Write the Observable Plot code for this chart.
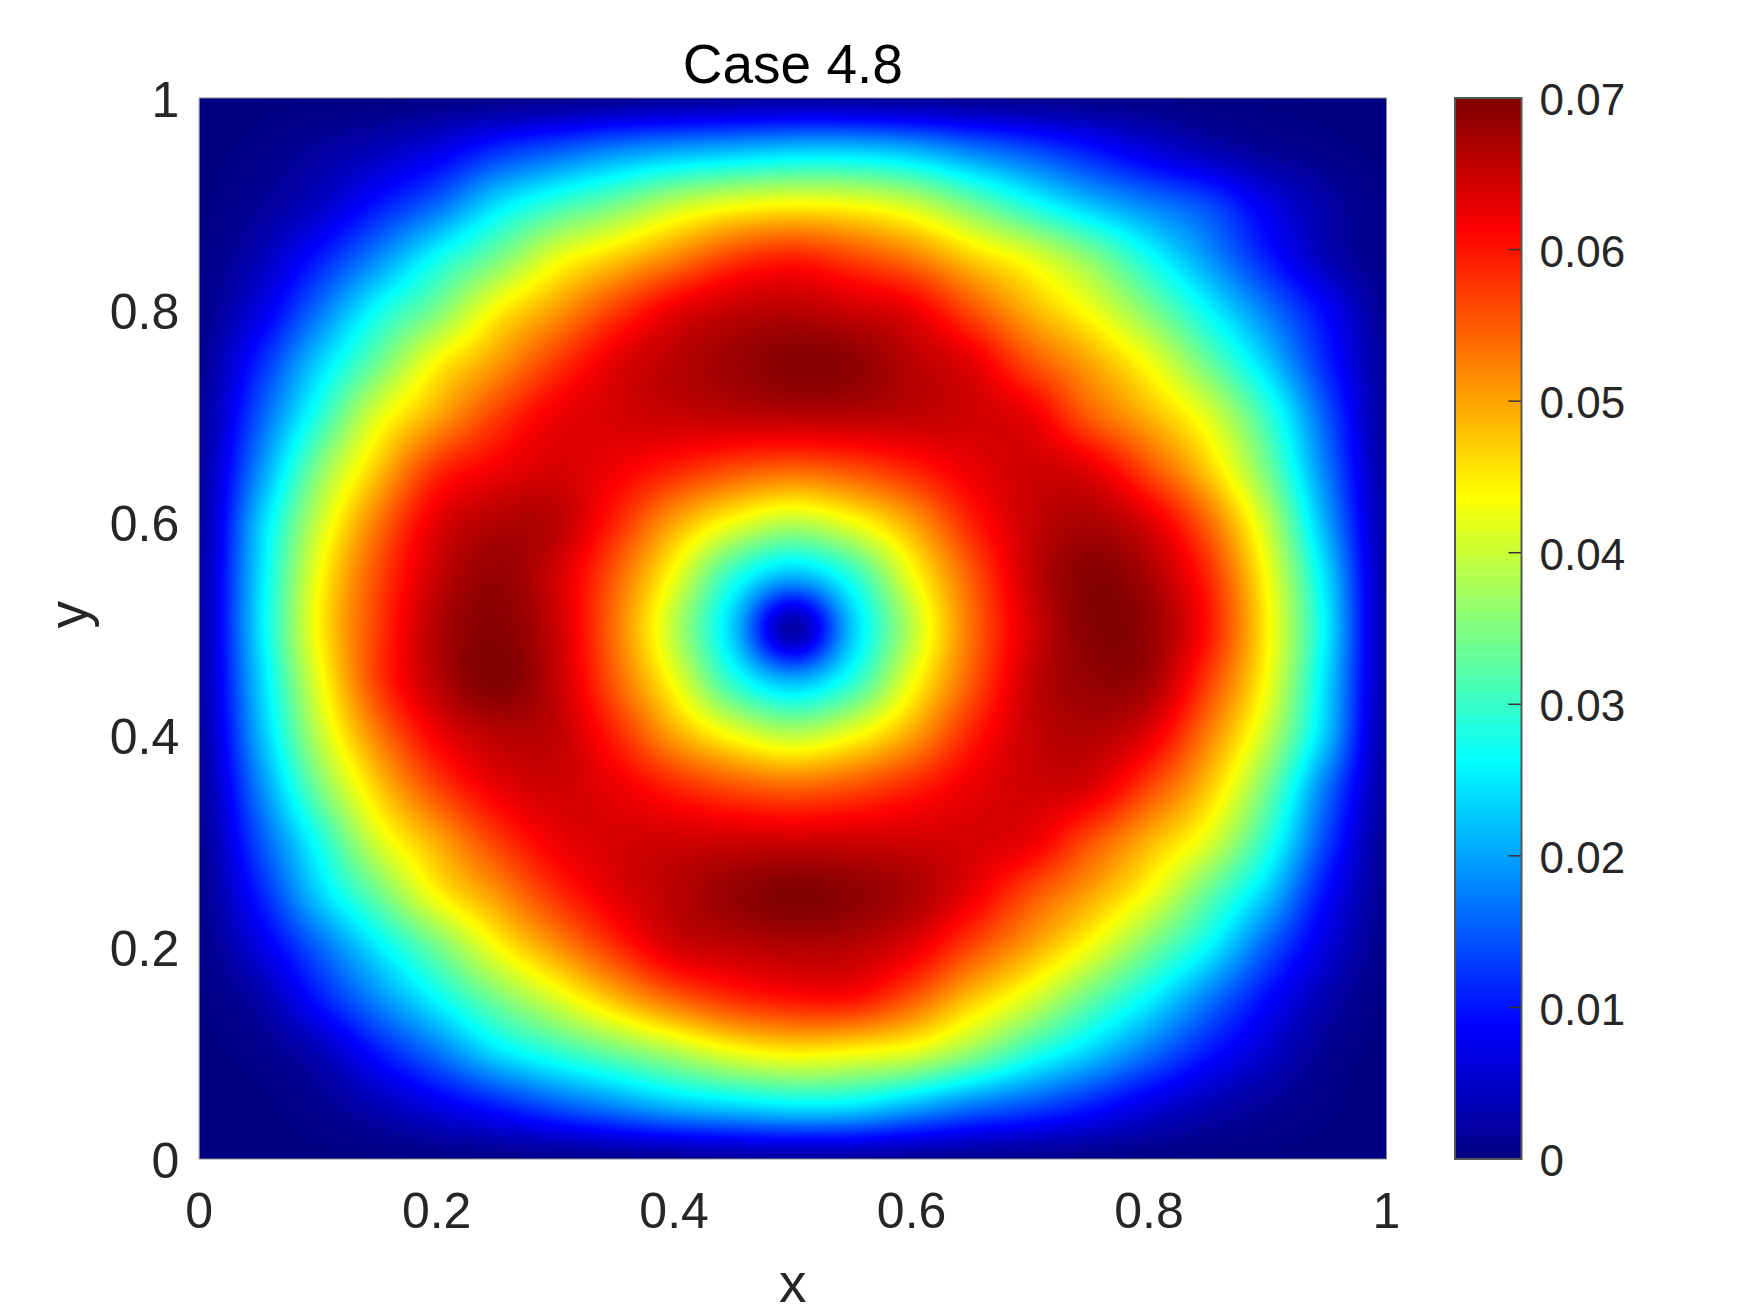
<!DOCTYPE html>
<html>
<head>
<meta charset="utf-8">
<script src="https://cdn.jsdelivr.net/npm/d3@7"></script>
<script src="https://cdn.jsdelivr.net/npm/@observablehq/plot@0.6"></script>
<style>
html,body{margin:0;padding:0;background:#fff;overflow:hidden}
#chart{position:relative;width:1750px;height:1313px}
#chart svg{position:absolute;left:0;top:0;background:transparent;overflow:visible}
</style>
</head>
<body>
<div id="chart"></div>
<script>
const titleText = "Case 4.8";
const xLabelText = "x";
const yLabelText = "y";
const axisTicks = [0, 0.2, 0.4, 0.6, 0.8, 1];
const colorTicks = [0, 0.01, 0.02, 0.03, 0.04, 0.05, 0.06, 0.07];
const jetStops = [0, 0.00875, 0.02625, 0.04375, 0.06125, 0.07];
const jetColors = ["rgb(0,0,131)", "rgb(0,0,255)", "rgb(0,255,255)", "rgb(255,255,0)", "rgb(255,0,0)", "rgb(128,0,0)"];
const gridX = [0,.05,.1,.15,.2,.25,.3,.35,.4,.45,.5,.55,.6,.65,.7,.75,.8,.85,.9,.95,1];
const gridY = [1,.95,.9,.85,.8,.75,.7,.65,.6,.55,.5,.45,.4,.35,.3,.25,.2,.15,.1,.05,0];
const y100 = [0,0,0,0,0.2,0.4,0.7,1,1.4,1.8,2,1.8,1.4,1,0.7,0.4,0.2,0,0,0,0];
const y095 = [0,.5,2,4,7,11.8,15,18.2,20.3,21.7,23,23,21.3,17.6,14.2,10.4,6.5,3.5,1.5,.5,0];
const y090 = [0,1.5,4.5,10,15.75,24,29.6,34,39.2,42.5,43.8,43,40,34,27.6,22,17.6,13.6,7,2.5,.3];
const y085 = [.3,3.5,10.2,18,26.7,34,42,47,52,57,59,56.5,52.8,47,42,35.5,27,19,10.5,3.5,.5];
const y080 = [.5,6.5,16.4,26.8,34.6,44,50.4,57,62.5,65.3,66,64.7,62.5,56,49,43,35,26,17,8.5,1];
const y075 = [1,11,23,33.7,44,50.6,57.4,63,66,68,69.5,69,66,63,56,50,43,33.5,23,11,1.5];
const y070 = [1.5,14.6,28.5,41.7,49.8,57,62.3,64,65,65.5,66,66,65.5,64.5,62.5,55,49,41.5,29.7,14.5,1.5];
const y065 = [2,18.2,35,47.5,58,62,64,62,59,56,54.5,56,59,62.5,64.5,63,56,47,34,17,2];
const y060 = [2,22.2,39.8,53,63,66.5,66,59,50,43,39,43,50,59,65,67,63.5,54,39.5,20,2.5];
const y055 = [2.5,23.5,43,56,65,68.5,64.5,55,43,29,21.5,29,43,55,65,69.5,67,58.5,43,23.5,2.5];
const y050 = [2.5,24,44,57,66.5,69.5,65,53.5,39,22.5,2.5,22.5,39,53.5,64,69.5,68.5,60,44.3,25,2.5];
const y045 = [2.5,22.6,42,57,66,70,65.5,55,43,29,21.5,29,43,55,65,68.5,67.5,57,43,23.5,2.5];
const y040 = [2,20.8,39,52.5,62,66,65.5,59,50,43,39,43,50,59,65,66.5,63,52.5,39.5,22,2];
const y035 = [1.5,17.5,34,47,56.5,62.5,64.5,62.5,59,56,54.5,56,59,62.5,64.5,63.5,56.5,47.5,34,16.5,2];
const y030 = [1,14,27.5,41,49.5,57,62.3,64,64.5,64.5,64.5,64.5,64.5,64,62.5,56,49,41.5,29,13,1];
const y025 = [.7,10.5,23,33.5,44,51,58,63,66,68.5,70,69,67,62.5,56,50,43,33,22.5,9,1];
const y020 = [.4,6.5,15.5,25,34,43.5,51,58,64,65.5,66.5,66,63,56.5,50,43,34.5,26,15,6,.5];
const y015 = [.2,2.5,10,18,26,34,41,48,54,58,60,60,55,47.5,41,33,25.5,17,9,3,0];
const y010 = [0,.7,3.5,10,16.5,24,29,33.5,38,42.5,44.5,43.5,41.5,36,29,23,16.5,10,5,1,0];
const y005 = [0,0,1,3.5,7,10.5,14.5,18,21.5,23.5,25,24.5,21,17,14,10.5,6.5,3.5,1.5,.3,0];
const y000 = [0,0,0,0,0.2,0.4,0.7,1,1.4,1.8,2,1.8,1.4,1,0.7,0.4,0.2,0,0,0,0];
const rows = [y100,y095,y090,y085,y080,y075,y070,y065,y060,y055,y050,y045,y040,y035,y030,y025,y020,y015,y010,y005,y000];

const cells = rows.flatMap((row, r) => row.map((v, c) => ({x: gridX[c], y: gridY[r], v: v / 1000})));

// smooth (cubic) spatial interpolation of the sampled grid for Plot.raster
function cubicInterpolate(index, width, height, X, Y, V) {
  const n = gridX.length, m = gridY.length;
  const g = new Float64Array(n * m);
  for (const i of index) {
    const c = Math.round(X[i] / width * (n - 1));
    const r = Math.round(Y[i] / height * (m - 1));
    g[r * n + c] = V[i];
  }
  const w = (t) => [
    0.5 * (-t + 2 * t * t - t * t * t),
    0.5 * (2 - 5 * t * t + 3 * t * t * t),
    0.5 * (t + 4 * t * t - 3 * t * t * t),
    0.5 * (t * t * t - t * t)
  ];
  const out = new Float64Array(width * height);
  for (let py = 0; py < height; ++py) {
    const v = (py + 0.5) / height * (m - 1), r0 = Math.min(m - 2, Math.floor(v)), wy = w(v - r0);
    for (let px = 0; px < width; ++px) {
      const u = (px + 0.5) / width * (n - 1), c0 = Math.min(n - 2, Math.floor(u)), wx = w(u - c0);
      let s = 0;
      for (let a = 0; a < 4; ++a) {
        const r = Math.max(0, Math.min(m - 1, r0 - 1 + a));
        for (let b = 0; b < 4; ++b) {
          const c = Math.max(0, Math.min(n - 1, c0 - 1 + b));
          s += wy[a] * wx[b] * g[r * n + c];
        }
      }
      out[py * width + px] = Math.max(0, s);
    }
  }
  return out;
}

const fontFamily = "'Liberation Sans', Arial, sans-serif";
const tickColor = "#262626";
const colorScale = {type: "linear", domain: jetStops, range: jetColors, clamp: true};
const plotStyle = {fontFamily, fontSize: "44px", background: "transparent"};

const main = Plot.plot({
  width: 1750, height: 1313,
  marginLeft: 198.7, marginRight: 364, marginTop: 97.5, marginBottom: 154.5,
  style: plotStyle,
  x: {domain: [0, 1]},
  y: {domain: [0, 1]},
  color: colorScale,
  marks: [
    Plot.raster(cells, {x: "x", y: "y", fill: "v", x1: 0, x2: 1, y1: 0, y2: 1, pixelSize: 1, interpolate: cubicInterpolate}),
    Plot.frame({stroke: "#8a8a8a", strokeWidth: 1}),
    Plot.axisX({ticks: axisTicks, tickFormat: String, tickSize: 0, tickPadding: 33, fontSize: 50, label: null, color: tickColor}),
    Plot.axisY({ticks: axisTicks, tickFormat: String, tickSize: 0, tickPadding: 20, fontSize: 50, dy: 3, label: null, color: tickColor}),
    Plot.text([titleText], {frameAnchor: "top", dy: -33, fontSize: 55, fill: "#000", lineAnchor: "middle"}),
    Plot.text([xLabelText], {frameAnchor: "bottom", dy: 125, fontSize: 55, fill: tickColor, lineAnchor: "middle"}),
    Plot.text([yLabelText], {frameAnchor: "left", dx: -130, fontSize: 55, fill: tickColor, rotate: -90, lineAnchor: "middle"})
  ]
});

const bar = Plot.plot({
  width: 1750, height: 1313,
  marginLeft: 1454.5, marginRight: 229, marginTop: 97.5, marginBottom: 154.5,
  style: plotStyle,
  x: {domain: [0, 1], axis: null},
  y: {domain: [0, 0.07], axis: null},
  color: colorScale,
  marks: [
    Plot.raster({fill: (x, y) => y, x1: 0, x2: 1, y1: 0, y2: 0.07, pixelSize: 1}),
    Plot.tickY(colorTicks.slice(1, -1), {y: d => d, insetLeft: 54, stroke: "#333", strokeWidth: 1.5}),
    Plot.frame({stroke: "#555", strokeWidth: 2}),
    Plot.axisY({anchor: "right", ticks: colorTicks, tickFormat: String, tickSize: 0, tickPadding: 18, dy: 3, label: null, color: tickColor})
  ]
});

const root = document.getElementById("chart");
root.appendChild(main);
root.appendChild(bar);
</script>
</body>
</html>
